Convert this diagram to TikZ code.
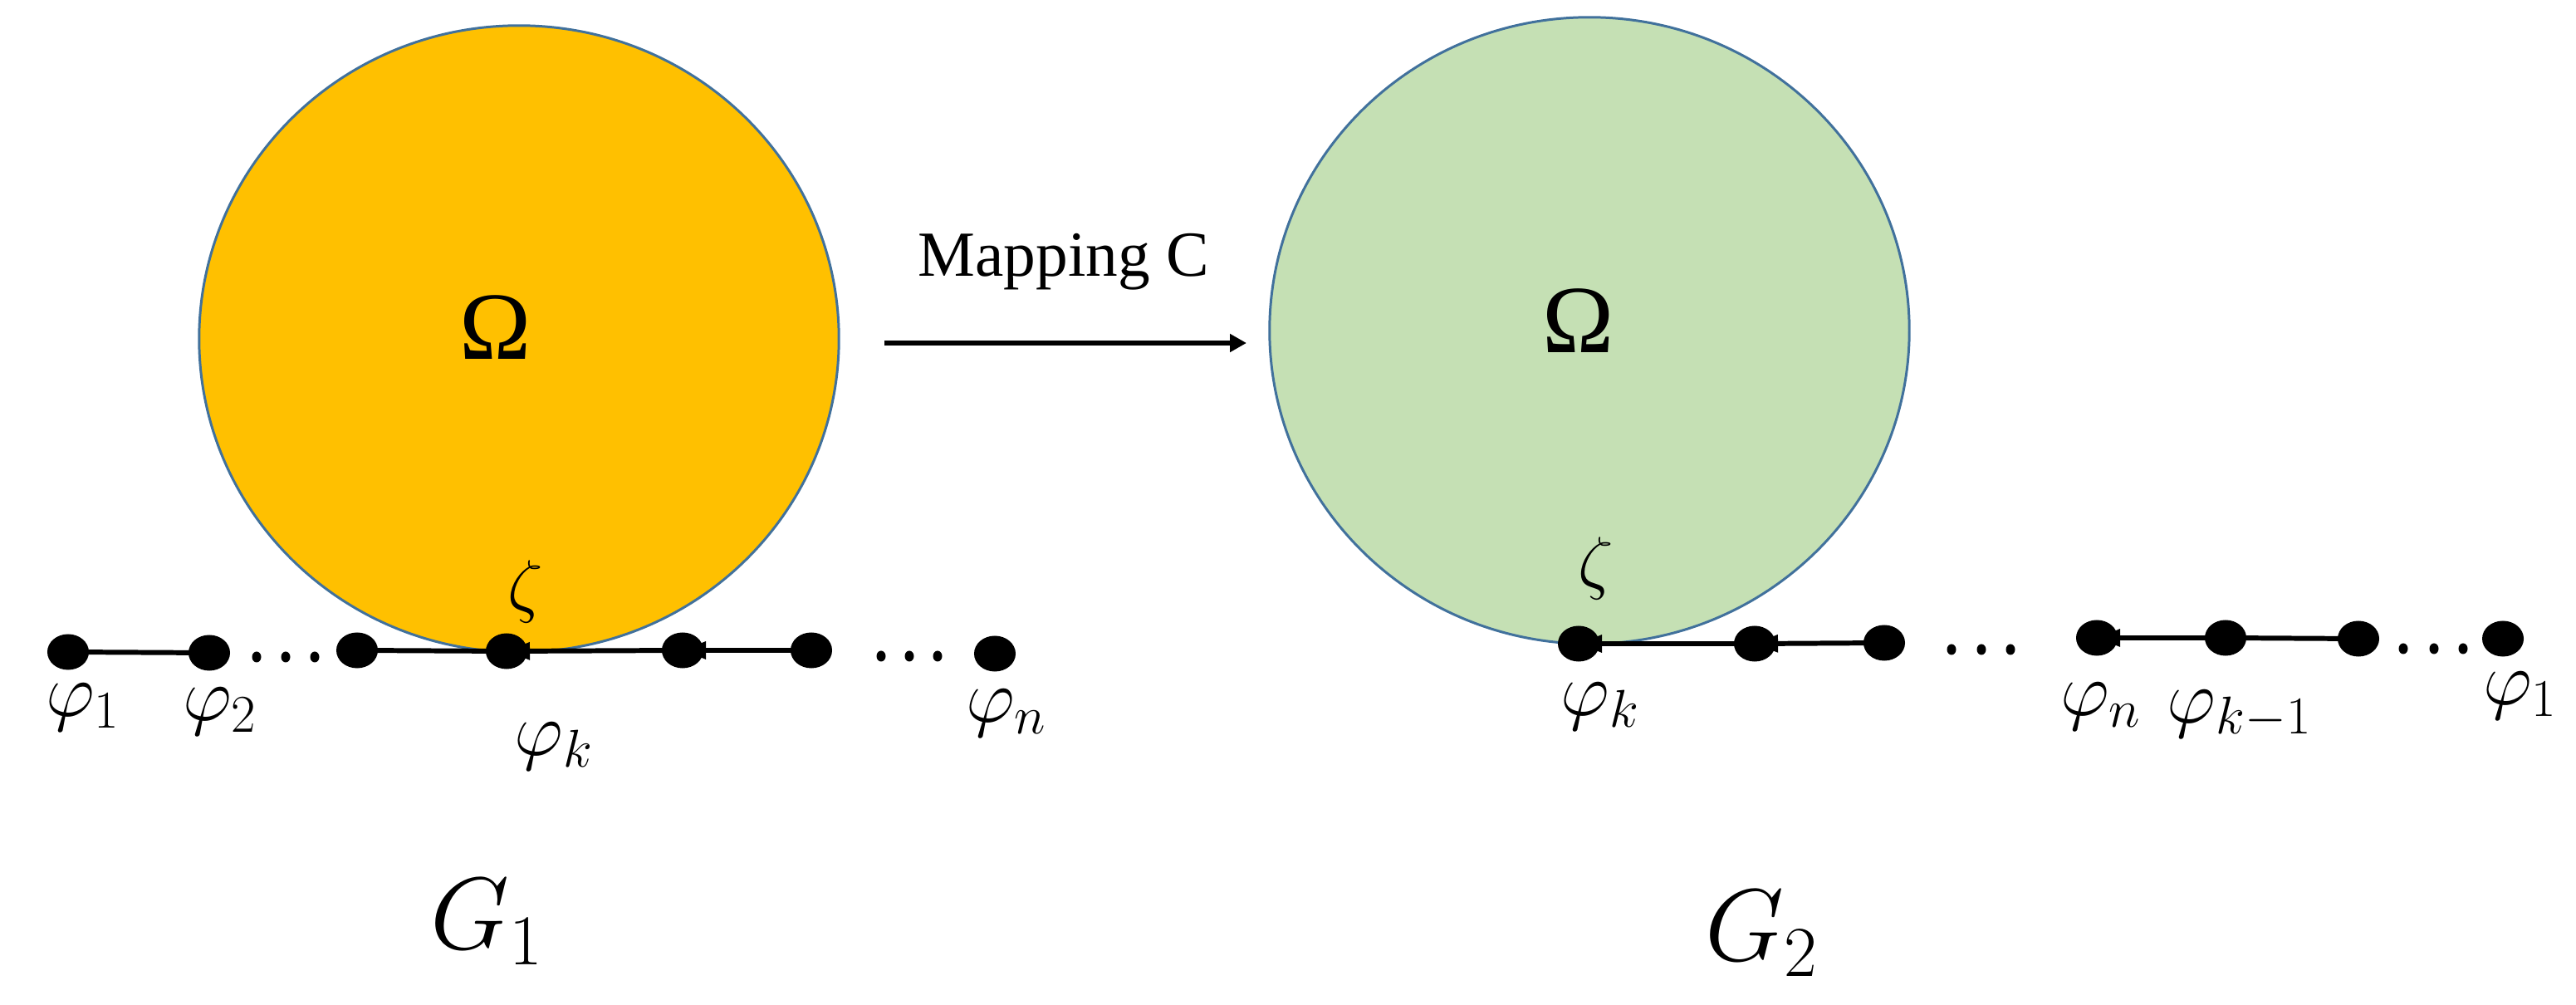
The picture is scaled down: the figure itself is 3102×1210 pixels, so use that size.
\RequirePackage{fix-cm}
\documentclass[tikz,border=0pt]{standalone}
\usepackage{fontspec}
\setmainfont{Liberation Serif}
\newfontfamily\timesfont{Liberation Serif}
\usetikzlibrary{shapes.geometric,arrows.meta}
\definecolor{gold}{HTML}{FFC000}
\definecolor{paleg}{HTML}{C5E0B4}
\definecolor{rim}{HTML}{41719C}
\pgfdeclarelayer{bg}
\pgfdeclarelayer{mid}
\pgfsetlayers{bg,mid,main}
\tikzset{
  region/.style={ellipse, draw=rim, line width=0.85pt, minimum width=7.7cm, minimum height=7.54cm, inner sep=0},
  bigdot/.style={ellipse, fill=black, minimum width=0.5cm, minimum height=0.43cm, inner sep=0},
  smalldot/.style={ellipse, fill=black, minimum width=0.11cm, minimum height=0.13cm, inner sep=0},
  lbl/.style={font=\fontsize{26}{30}\selectfont, inner sep=0},
  zlbl/.style={font=\fontsize{24}{28}\selectfont, inner sep=0},
  glbl/.style={font=\fontsize{35}{40}\selectfont, inner sep=0},
  omlbl/.style={font=\timesfont\fontsize{33}{38}\selectfont, inner sep=0},
  conn/.style={line width=1.7pt},
  arr/.style={conn, -{Triangle[length=0.28cm,width=0.2cm]}},
  maparr/.style={line width=1.6pt, -{Triangle[length=0.2cm,width=0.21cm]}}
}
\begin{document}
\begin{tikzpicture}[x=0.01cm,y=-0.01cm]
\useasboundingbox (0,0) rectangle (3102,1210);
% regions
\begin{pgfonlayer}{bg}
\node[region, fill=gold] (regA) at (625,408) {};
\node[region, fill=paleg] (regB) at (1914,398) {};
\end{pgfonlayer}
\node[omlbl] (omA) at (597,394) {Ω};
\node[omlbl] (omB) at (1901,386) {Ω};
% mapping arrow
\coordinate (mapS) at (1065,413);
\coordinate (mapE) at (1501,413);
\draw[maparr] (mapS) -- (mapE);
\node[font=\timesfont\fontsize{22}{26}\selectfont, inner sep=0, anchor=base] (maplbl) at (1281,333) {Mapping C};
% left graph dots
\node[bigdot] (a1) at (82,785) {};
\node[bigdot] (a2) at (252,786) {};
\node[bigdot] (a3) at (430,783) {};
\node[bigdot] (ak) at (610,784) {};
\node[bigdot] (a5) at (822,783) {};
\node[bigdot] (a6) at (977,783) {};
\node[bigdot] (an) at (1198,787) {};
\node[smalldot] (s1) at (309,791) {};
\node[smalldot] (s2) at (344,791) {};
\node[smalldot] (s3) at (379,791) {};
\node[smalldot] (s4) at (1061,790) {};
\node[smalldot] (s5) at (1095,790) {};
\node[smalldot] (s6) at (1129,790) {};
% right graph dots
\node[bigdot] (bk) at (1901,775) {};
\node[bigdot] (b2) at (2113,775) {};
\node[bigdot] (b3) at (2269,774) {};
\node[bigdot] (bn) at (2525,768) {};
\node[bigdot] (bkm) at (2680,768) {};
\node[bigdot] (b7) at (2840,769) {};
\node[bigdot] (b1) at (3014,769) {};
\node[smalldot] (t1) at (2350,782) {};
\node[smalldot] (t2) at (2386,782) {};
\node[smalldot] (t3) at (2421,782) {};
\node[smalldot] (t4) at (2894,781) {};
\node[smalldot] (t5) at (2931,781) {};
\node[smalldot] (t6) at (2966,781) {};
% connectors
\begin{pgfonlayer}{mid}
\draw[conn] (a1.center) -- (a2.center);
\draw[conn] (a3.center) -- (ak.center);
\draw[arr] (a5.center) -- (ak.center);
\draw[arr] (a6.center) -- (a5.center);
\draw[arr] (b2.center) -- (bk.center);
\draw[arr] (b3.center) -- (b2.center);
\draw[arr] (bkm.center) -- (bn.center);
\draw[conn] (b7.center) -- (bkm.center);
\end{pgfonlayer}
% labels
\node[lbl] (la1) at (100,852) {$\varphi_1$};
\node[lbl] (la2) at (265,857) {$\varphi_2$};
\node[lbl] (lak) at (667,899) {$\varphi_k$};
\node[lbl] (lan) at (1212,859) {$\varphi_n$};
\node[lbl] (lbk) at (1927,851) {$\varphi_k$};
\node[lbl] (lbn) at (2530,851) {$\varphi_n$};
\node[lbl] (lbkm) at (2697,860) {$\varphi_{k-1}$};
\node[lbl] (lb1) at (3035,838) {$\varphi_1$};
\node[zlbl] (za) at (633,712) {$\zeta$};
\node[zlbl] (zb) at (1922,684) {$\zeta$};
\node[glbl] (g1) at (587,1110) {$G_1$};
\node[glbl] (g2) at (2122,1124) {$G_2$};
\end{tikzpicture}
\end{document}
